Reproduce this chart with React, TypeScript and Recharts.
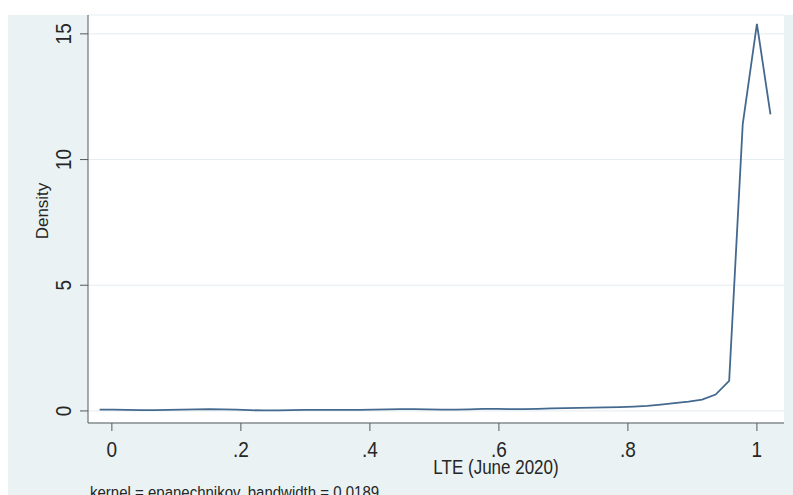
import React from "react";
import { LineChart, Line, XAxis, YAxis, CartesianGrid } from "recharts";

// kernel density estimate of LTE share (June 2020), 50 evaluation points
const lteGrid = [
  -0.019, 0.002, 0.023, 0.045, 0.066, 0.087, 0.108, 0.13, 0.151, 0.172,
  0.193, 0.214, 0.236, 0.257, 0.278, 0.299, 0.321, 0.342, 0.363, 0.384,
  0.405, 0.427, 0.448, 0.469, 0.49, 0.512, 0.533, 0.554, 0.575, 0.596,
  0.618, 0.639, 0.66, 0.681, 0.703, 0.724, 0.745, 0.766, 0.787, 0.809,
  0.83, 0.851, 0.872, 0.894, 0.915, 0.936, 0.957, 0.978, 1.0, 1.021,
];

const densityValues = [
  0.05, 0.05, 0.04, 0.03, 0.03, 0.04, 0.05, 0.06, 0.07, 0.06,
  0.05, 0.03, 0.02, 0.02, 0.03, 0.04, 0.04, 0.04, 0.04, 0.04,
  0.05, 0.06, 0.07, 0.07, 0.06, 0.05, 0.05, 0.06, 0.08, 0.08,
  0.07, 0.07, 0.08, 0.1, 0.11, 0.12, 0.13, 0.14, 0.15, 0.17,
  0.2, 0.25, 0.31, 0.37, 0.45, 0.65, 1.2, 11.4, 15.4, 11.8,
];

const xTicks = [0, 0.2, 0.4, 0.6, 0.8, 1];
const yTicks = [0, 5, 10, 15];

const data = lteGrid.map((x, i) => ({ x, density: densityValues[i] }));

const FONT = "'Liberation Sans', Arial, sans-serif";
const INK = "#262626";
const AXIS = "#555a5e";

const fmtX = (v: number) => (v === 0 ? "0" : v === 1 ? "1" : String(v).replace(/^0/, ""));

// the source graph's lettering is slightly stretched vertically
function XTick({ x, y, payload }: any) {
  return (
    <text
      transform={`translate(${x}, ${y + 17}) scale(1, 1.12)`}
      textAnchor="middle"
      dominantBaseline="central"
      fontFamily={FONT}
      fontSize={19}
      fill={INK}
    >
      {fmtX(payload.value)}
    </text>
  );
}

function YTick({ y, payload }: any) {
  const cx = 64;
  return (
    <text
      transform={`translate(${cx}, ${y}) rotate(-90) scale(1, 1.12)`}
      textAnchor="middle"
      dominantBaseline="central"
      fontFamily={FONT}
      fontSize={19}
      fill={INK}
    >
      {payload.value}
    </text>
  );
}

export default function App() {
  return (
    <div
      style={{
        position: "absolute",
        left: 0,
        top: 0,
        width: 793,
        height: 495,
        background: "#ffffff",
        overflow: "hidden",
      }}
    >
      <div
        style={{
          position: "absolute",
          left: 8,
          top: 15,
          width: 785,
          height: 480,
          background: "#eaf2f3",
        }}
      />
      <LineChart
        width={793}
        height={495}
        data={data}
        margin={{ top: 15, right: 9, bottom: 0, left: 0 }}
        style={{ position: "absolute", left: 0, top: 0 }}
      >
        <CartesianGrid fill="#ffffff" stroke="#e3edf0" vertical={false} />
        <XAxis
          dataKey="x"
          type="number"
          domain={[-0.037, 1.042]}
          ticks={xTicks}
          allowDataOverflow
          height={72}
          tickSize={8}
          axisLine={{ stroke: AXIS }}
          tickLine={{ stroke: AXIS }}
          tick={<XTick />}
          label={{
            content: () => (
              <text
                transform="translate(496, 467) scale(1, 1.18)"
                textAnchor="middle"
                dominantBaseline="central"
                fontFamily={FONT}
                fontSize={17}
                fill={INK}
              >
                LTE (June 2020)
              </text>
            ),
          }}
        />
        <YAxis
          type="number"
          domain={[-0.48, 15.75]}
          ticks={yTicks}
          allowDataOverflow
          width={88}
          tickSize={8}
          axisLine={{ stroke: AXIS }}
          tickLine={{ stroke: AXIS }}
          tick={<YTick />}
          label={{
            content: () => (
              <text
                transform="translate(42, 211) rotate(-90)"
                textAnchor="middle"
                dominantBaseline="central"
                fontFamily={FONT}
                fontSize={17}
                fill={INK}
              >
                Density
              </text>
            ),
          }}
        />
        <Line
          type="linear"
          dataKey="density"
          stroke="#44698f"
          strokeWidth={1.8}
          dot={false}
          isAnimationActive={false}
        />
      </LineChart>
      <div
        style={{
          position: "absolute",
          left: 90,
          top: 482,
          fontFamily: FONT,
          fontSize: 15,
          color: INK,
          whiteSpace: "nowrap",
          lineHeight: "18px",
          transform: "scale(1, 1.15)",
          transformOrigin: "0 0",
        }}
      >
        kernel = epanechnikov, bandwidth = 0.0189
      </div>
    </div>
  );
}
